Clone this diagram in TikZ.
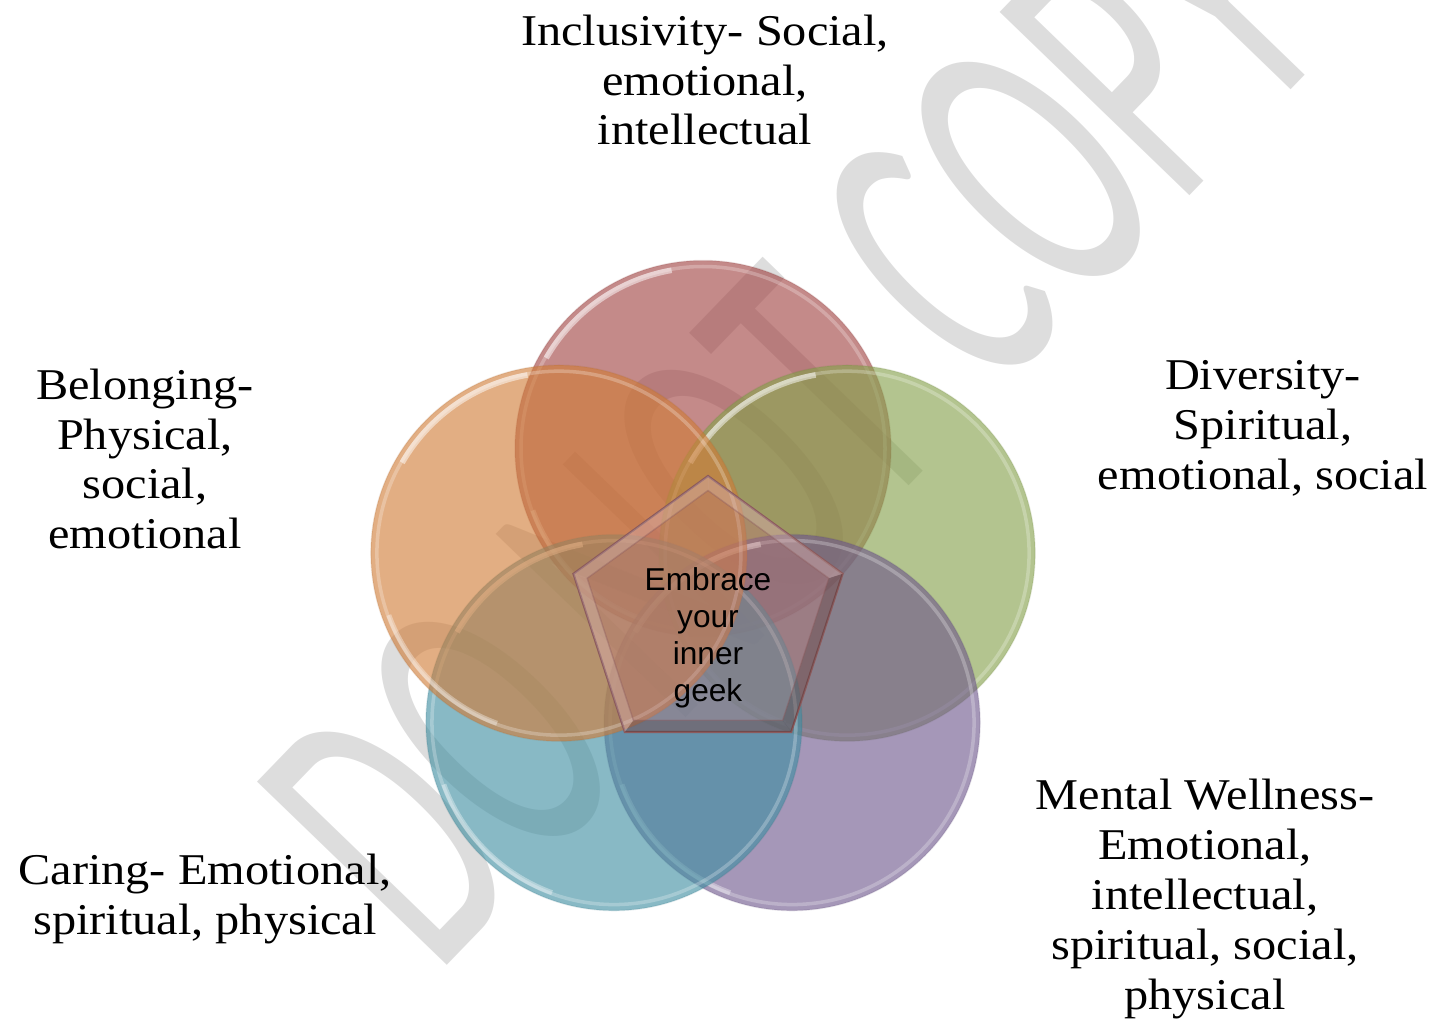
\documentclass[tikz,border=0pt]{standalone}
\usepackage{fontspec}
\setmainfont{Liberation Serif}
\newfontfamily\corefont{Liberation Sans}
\newfontfamily\stampfont{Carlito}
\usetikzlibrary{positioning,calc}
\definecolor{ballred}{RGB}{160,66,65}
\definecolor{ballgreen}{RGB}{132,160,74}
\definecolor{ballpurple}{RGB}{110,87,140}
\definecolor{ballblue}{RGB}{63,142,161}
\definecolor{ballorange}{RGB}{208,124,55}
\definecolor{stampgray}{RGB}{221,221,221}
\definecolor{facetrose}{RGB}{190,120,120}
\definecolor{facetedge}{RGB}{140,90,92}
\begin{document}
\begin{tikzpicture}[x=0.1mm,y=0.1mm]
	\tikzset{
		every node/.style={inner sep=0pt,outer sep=0pt},
		% nhan ben ngoai
		tag/.style={font=\fontsize{12.5}{14.2}\selectfont,align=center,xscale=1.1},
		% chu giua
		coretext/.style={font=\corefont\fontsize{9}{10.5}\selectfont,align=center},
		% vong tron
		bubble/.style={circle,minimum size=37.6mm,fill opacity=.62},
		rim/.style={white,opacity=.25,line width=1pt},
		% chu mo phia sau
		stamp/.style={font=\stampfont\fontsize{117}{117}\selectfont,text=stampgray},
		% ngu giac
		facet/.style={fill=facetrose,fill opacity=.38,draw=facetedge,line width=.6pt},
	}
	\useasboundingbox (0,0) rectangle (1443,1023);
	\clip (0,0) rectangle (1443,1023);
	%
	\node[stamp,rotate=46,anchor=base west] (wmark) at (436,47) {\scalebox{.555}[1]{DO NOT COPY}};
	%
	\begin{scope}[shift={(703,423)}]
		\foreach \a/\col/\nm in {90/ballred/incl,18/ballgreen/div,-54/ballpurple/mental,-126/ballblue/caring,162/ballorange/belong}{
			\node[bubble,fill=\col] (\nm) at (\a:151.5) {};
			\draw[\col!80!black,opacity=.15,line width=.4pt] (\nm.center) circle (188);
			\draw[rim] (\nm.center) circle (182);
			\draw[white,opacity=.5,line width=1.6pt] ($(\nm.center)+(100:181)$) arc (100:150:181);
			\draw[white,opacity=.35,line width=1.4pt] ($(\nm.center)+(200:181)$) arc (200:250:181);
		}
	\end{scope}
	%
	\begin{scope}[shift={(708,405.5)}]
		\draw[facet] (90:141.5)--(18:141.5)--(-54:141.5)--(-126:141.5)--(162:141.5)--cycle;
		\foreach \a/\b/\sh in {162/90/white!100,90/18/white!100,18/-54/black,-54/-126/black,-126/162/white!100}{
			\fill[\sh,opacity=.18] (\a:141.5)--(\b:141.5)--(\b:127)--(\a:127)--cycle;
		}
		\draw[facetedge,opacity=.4,line width=.4pt] (90:127)--(18:127)--(-54:127)--(-126:127)--(162:127)--cycle;
	\end{scope}
	\node[coretext] (core) at (708,385) {Embrace\\your\\inner\\geek};
	%
	\node[tag] (incl-t) at (705,943) {Inclusivity- Social,\\emotional,\\intellectual};
	\node[tag] (div-t) at (1263,595) {Diversity-\\Spiritual,\\emotional, social};
	\node[tag] (belong-t) at (145,564) {Belonging-\\Physical,\\social,\\emotional};
	\node[tag] (caring-t) at (205,124) {Caring- Emotional,\\spiritual, physical};
	\node[tag] (mental-t) at (1205,124) {Mental Wellness-\\Emotional,\\intellectual,\\spiritual, social,\\physical};
\end{tikzpicture}
\end{document}
